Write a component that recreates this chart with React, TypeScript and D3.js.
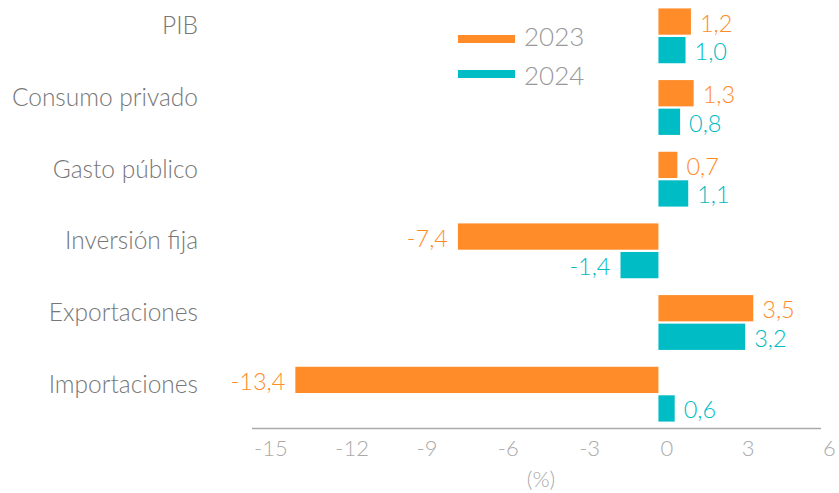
import React from "react";
import * as d3 from "d3";

const categories = ["PIB", "Consumo privado", "Gasto público", "Inversión fija", "Exportaciones", "Importaciones"];
const series2023 = [1.2, 1.3, 0.7, -7.4, 3.5, -13.4];
const series2024 = [1.0, 0.8, 1.1, -1.4, 3.2, 0.6];
const seriesNames = ["2023", "2024"];
const seriesColors = ["#FF8C28", "#00BCC4"];
const xTicks = [-15, -12, -9, -6, -3, 0, 3, 6];

const W = 839;
const H = 493;
const FONT = "Lato, 'Open Sans', sans-serif";

export default function App() {
  const x = d3.scaleLinear().domain([-15, 6]).range([252, 821]);
  const y = d3.scaleBand<string>().domain(categories).range([0, 430]).paddingInner(0.235).paddingOuter(0.1175);
  const inner = d3.scaleBand<string>().domain(seriesNames).range([0, y.bandwidth()]).paddingInner(0.08);
  const fmt = (v: number) => d3.format(".1f")(v).replace("\u2212", "-").replace(".", ",");
  const all = [series2023, series2024];

  return (
    <svg width={W} height={H} style={{ position: "absolute", left: 0, top: 0, background: "#fff" }}>
      {categories.map((c) => (
        <text key={c} x={198} y={(y(c) as number) + y.bandwidth() / 2 - 11} textAnchor="end" dominantBaseline="central"
          fontFamily={FONT} fontWeight={300} fontSize={24.5} fill="#777">{c}</text>
      ))}
      {all.map((vals, si) =>
        vals.map((v, i) => {
          const c = categories[i];
          const yy = (y(c) as number) + (inner(seriesNames[si]) as number);
          const bh = inner.bandwidth();
          const x0 = x(Math.min(0, v));
          const x1 = x(Math.max(0, v));
          return (
            <g key={si + "-" + i}>
              <rect x={x0} y={yy} width={x1 - x0} height={bh} fill={seriesColors[si]} />
              <text x={v >= 0 ? x1 + 9 : x0 - 10} y={yy + bh / 2 + 1} textAnchor={v >= 0 ? "start" : "end"}
                dominantBaseline="central" fontFamily={FONT} fontWeight={300} fontSize={23.5} fill={seriesColors[si]}>{fmt(v)}</text>
            </g>
          );
        })
      )}
      <line x1={x(-15)} x2={x(6)} y1={428.5} y2={428.5} stroke="#aaa" strokeWidth={1.5} />
      {xTicks.map((t) => (
        <text key={t} x={x(t) + 2} y={447} textAnchor="start" dominantBaseline="central" fontFamily={FONT} fontWeight={300}
          fontSize={22} fill="#aaa">{t}</text>
      ))}
      <text x={541} y={478} textAnchor="middle" dominantBaseline="central" fontFamily={FONT} fontWeight={300} fontSize={22} fill="#aaa">(%)</text>
      {seriesNames.map((s, i) => (
        <g key={s}>
          <rect x={458} y={35 + i * 35} width={57} height={8} fill={seriesColors[i]} />
          <text x={524} y={36 + i * 39} dominantBaseline="central" fontFamily={FONT} fontWeight={300} fontSize={26} fill="#999">{s}</text>
        </g>
      ))}
    </svg>
  );
}
